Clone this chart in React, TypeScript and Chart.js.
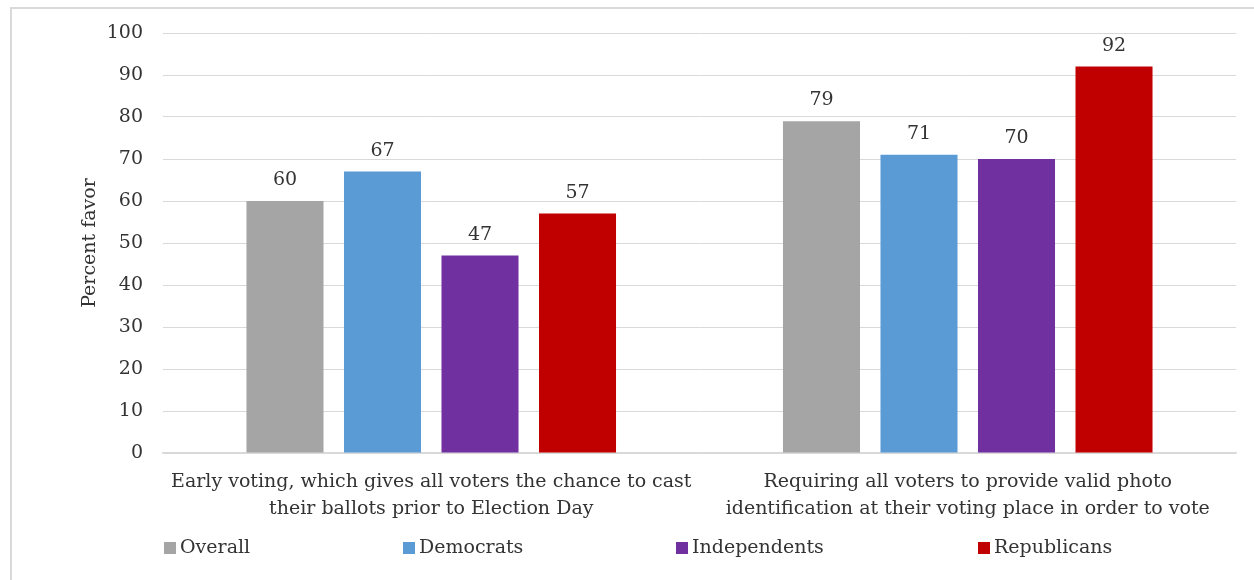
import React, { useEffect, useRef } from 'react';
import { Chart, registerables } from 'chart.js';

Chart.register(...registerables);

const categories: string[][] = [
  ['Early voting, which gives all voters the chance to cast', 'their ballots prior to Election Day'],
  ['Requiring all voters to provide valid photo', 'identification at their voting place in order to vote'],
];
const seriesNames = ['Overall', 'Democrats', 'Independents', 'Republicans'];
const overall = [60, 79];
const democrats = [67, 71];
const independents = [47, 70];
const republicans = [57, 92];
const yMin = 0;
const yMax = 100;
const yStep = 10;
const yTitle = 'Percent favor';

const colors = ['#A5A5A5', '#5B9BD5', '#7030A0', '#C00000'];
const FONT = "'DejaVu Serif', serif";
const FS = 19;
const TEXT = '#333333';
const legendX = [164, 403, 676, 978];

const overlay = {
  id: 'overlay',
  beforeDraw(chart: any) {
    const ctx = chart.ctx;
    ctx.save();
    ctx.fillStyle = '#ffffff';
    ctx.fillRect(0, 0, chart.width, chart.height);
    ctx.fillStyle = '#d9d9d9';
    ctx.fillRect(10, 7, 2, chart.height - 7);
    ctx.fillRect(10, 7, 1254, 2);
    ctx.restore();
  },
  afterDatasetsDraw(chart: any) {
    const ctx = chart.ctx;
    ctx.save();
    ctx.font = `${FS}px ${FONT}`;
    ctx.fillStyle = TEXT;
    ctx.textAlign = 'center';
    ctx.textBaseline = 'alphabetic';
    chart.data.datasets.forEach((ds: any, i: number) => {
      const meta = chart.getDatasetMeta(i);
      meta.data.forEach((el: any, j: number) => {
        ctx.fillText(String(ds.data[j]), el.x, el.y - 16);
      });
    });
    const ca = chart.chartArea;
    ctx.save();
    ctx.translate(90, (ca.top + ca.bottom) / 2);
    ctx.rotate(-Math.PI / 2);
    ctx.textBaseline = 'middle';
    ctx.fillText(yTitle, 0, 0);
    ctx.restore();
    ctx.textAlign = 'left';
    ctx.textBaseline = 'middle';
    seriesNames.forEach((n, i) => {
      ctx.fillStyle = colors[i];
      ctx.fillRect(legendX[i], 542, 12, 12);
      ctx.fillStyle = TEXT;
      ctx.fillText(n, legendX[i] + 16, 548);
    });
    ctx.restore();
  },
};

export default function App() {
  const ref = useRef<HTMLCanvasElement>(null);
  useEffect(() => {
    const prev = document.body.style.margin;
    document.body.style.margin = '0';
    document.body.style.overflow = 'hidden';
    if (!ref.current) return;
    const seriesData = [overall, democrats, independents, republicans];
    const chart = new Chart(ref.current, {
      type: 'bar',
      data: {
        labels: categories,
        datasets: seriesNames.map((name, i) => ({
          label: name,
          data: seriesData[i],
          backgroundColor: colors[i],
          barPercentage: 0.79,
          categoryPercentage: 0.727,
        })),
      },
      options: {
        responsive: false,
        animation: false,
        devicePixelRatio: 1,
        layout: { padding: { top: 33, right: 18, left: 0, bottom: 0 } },
        plugins: { legend: { display: false }, tooltip: { enabled: false } },
        scales: {
          x: {
            grid: { display: false, drawTicks: false },
            border: { display: true, color: '#d9d9d9', width: 1.5 },
            ticks: {
              font: { family: FONT, size: FS, lineHeight: 1.42 },
              color: TEXT,
              padding: 16,
              maxRotation: 0,
              minRotation: 0,
              autoSkip: false,
            },
            afterFit(s: any) { s.height = 127; },
          },
          y: {
            min: yMin,
            max: yMax,
            ticks: { stepSize: yStep, padding: 20, color: TEXT, font: { family: FONT, size: FS } },
            grid: { color: '#d9d9d9', drawTicks: false, lineWidth: 1 },
            border: { display: false },
            afterFit(s: any) { s.width = 163; },
          },
        },
      },
      plugins: [overlay],
    } as any);
    return () => { chart.destroy(); document.body.style.margin = prev; };
  }, []);
  return (
    <div style={{ position: 'absolute', left: 0, top: 0, width: 1254, height: 580, background: '#fff', overflow: 'hidden' }}>
      <canvas ref={ref} width={1254} height={580} style={{ position: 'absolute', left: 0, top: 0, display: 'block' }} />
    </div>
  );
}
